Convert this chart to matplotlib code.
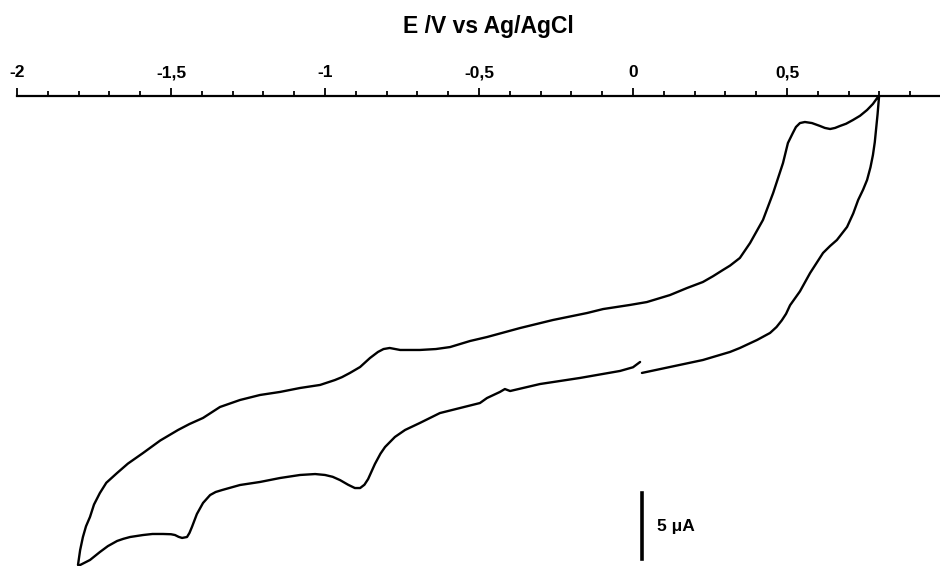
import matplotlib
matplotlib.use("Agg")
import matplotlib.pyplot as plt
from matplotlib.ticker import MultipleLocator, FuncFormatter

plt.rcParams['font.family'] = ['Liberation Sans', 'DejaVu Sans']

# potential (V vs Ag/AgCl) and current (uA)
# one continuous sweep: 0 V -> +0.8 V -> -1.8 V -> 0 V
E_fwd = [0.029, 0.120, 0.227, 0.315, 0.347, 0.403, 0.445, 0.466, 0.483, 0.497,
         0.510, 0.542, 0.575, 0.617, 0.640, 0.662, 0.695, 0.715, 0.731, 0.747,
         0.760, 0.771, 0.779, 0.785, 0.789, 0.794, 0.799]
I_fwd = [-20.98, -20.53, -20.00, -19.39, -19.09, -18.48, -17.95, -17.50, -17.00, -16.50,
         -15.85, -14.80, -13.41, -11.89, -11.36, -10.91, -9.92, -8.90, -7.88, -7.10,
         -6.36, -5.40, -4.47, -3.50, -2.58, -1.40, 0.0]

E_rev = [0.795, 0.779, 0.760, 0.737, 0.714, 0.692, 0.672, 0.656, 0.640, 0.623,
         0.607, 0.581, 0.558, 0.542, 0.529, 0.519, 0.503, 0.487, 0.455, 0.422,
         0.380, 0.347, 0.315, 0.292, 0.260, 0.227, 0.175, 0.120, 0.045, -0.010,
         -0.097, -0.149, -0.260, -0.367, -0.474, -0.529, -0.594, -0.640, -0.692, -0.756,
         -0.790, -0.810, -0.828, -0.854, -0.886, -0.919, -0.945, -0.968, -1.016, -1.081,
         -1.146, -1.211, -1.276, -1.341, -1.396, -1.440, -1.477, -1.535, -1.591, -1.640,
         -1.675, -1.710, -1.731, -1.750, -1.763, -1.776, -1.786, -1.795, -1.802]
I_rev = [-0.08, -0.60, -1.06, -1.50, -1.82, -2.10, -2.27, -2.42, -2.50, -2.42,
         -2.27, -2.05, -1.97, -2.05, -2.35, -2.80, -3.56, -5.08, -7.35, -9.39,
         -11.14, -12.27, -12.85, -13.18, -13.65, -14.09, -14.55, -15.08, -15.61, -15.83,
         -16.14, -16.44, -16.97, -17.58, -18.26, -18.56, -19.02, -19.17, -19.24, -19.24,
         -19.09, -19.17, -19.39, -19.85, -20.53, -20.98, -21.30, -21.52, -21.89, -22.12,
         -22.42, -22.65, -23.03, -23.56, -24.39, -24.85, -25.30, -26.10, -27.05, -27.85,
         -28.56, -29.30, -30.08, -30.95, -31.89, -32.60, -33.41, -34.40, -35.53]

E_back = [-1.795, -1.780, -1.763, -1.747, -1.731, -1.705, -1.675, -1.655, -1.633, -1.591,
          -1.560, -1.526, -1.500, -1.487, -1.475, -1.464, -1.448, -1.440, -1.432, -1.416,
          -1.396, -1.373, -1.355, -1.334, -1.276, -1.211, -1.146, -1.081, -1.032, -1.000,
          -0.975, -0.951, -0.925, -0.903, -0.886, -0.872, -0.860, -0.838, -0.820, -0.805,
          -0.773, -0.740, -0.692, -0.627, -0.562, -0.497, -0.474, -0.432, -0.416, -0.399,
          -0.302, -0.172, -0.042, 0.000, 0.023]
I_back = [-35.53, -35.35, -35.15, -34.85, -34.55, -34.10, -33.71, -33.55, -33.41, -33.26,
          -33.18, -33.18, -33.20, -33.26, -33.40, -33.48, -33.41, -33.10, -32.65, -31.67,
          -30.83, -30.23, -30.00, -29.85, -29.47, -29.24, -28.94, -28.71, -28.64, -28.71,
          -28.85, -29.10, -29.45, -29.70, -29.70, -29.45, -29.02, -27.88, -27.10, -26.59,
          -25.83, -25.30, -24.77, -24.02, -23.64, -23.26, -22.88, -22.42, -22.20, -22.35,
          -21.82, -21.36, -20.83, -20.55, -20.15]

E = E_fwd + E_rev + E_back
I = I_fwd + I_rev + I_back

# scale bar
bar_E = 0.029
bar_I0 = -35.08
bar_len = 5

fig = plt.figure(figsize=(9.4, 5.66), dpi=100)
ax = fig.add_axes([17/940, 0, 1 - 17/940, 1 - 96/566])

ax.plot(E, I, color='black', lw=1.7, clip_on=False,
        solid_joinstyle='round', solid_capstyle='round')
ax.plot([bar_E, bar_E], [bar_I0, bar_I0 + bar_len], color='black', lw=2.6)
ax.text(bar_E + 0.049, bar_I0 + bar_len/2, "5 \u03bcA", fontsize=12.5,
        fontweight='bold', va='center', ha='left')

ax.set_xlim(-2.0, (940 - 17)/308 - 2)
ax.set_ylim((96 - 566)/13.2, 0)

for s in ['left', 'right', 'bottom']:
    ax.spines[s].set_visible(False)
ax.spines['top'].set_linewidth(1.6)
ax.set_yticks([])
ax.xaxis.set_ticks_position('top')
ax.xaxis.set_major_locator(MultipleLocator(0.5))
ax.xaxis.set_minor_locator(MultipleLocator(0.1))
ax.xaxis.set_major_formatter(FuncFormatter(lambda v, p: ('%g' % v).replace('.', ',')))
ax.tick_params(axis='x', which='major', length=5.5, width=1.3, pad=6,
               labelsize=12.5, direction='out')
ax.tick_params(axis='x', which='minor', length=3.5, width=1.3, direction='out')
for lab in ax.get_xticklabels():
    lab.set_fontweight('bold')

fig.text(488/940, 1 - 33/566, "E /V vs Ag/AgCl", fontsize=16.5, fontweight='bold',
         ha='center', va='baseline')

fig.savefig("out.png", dpi=100)
